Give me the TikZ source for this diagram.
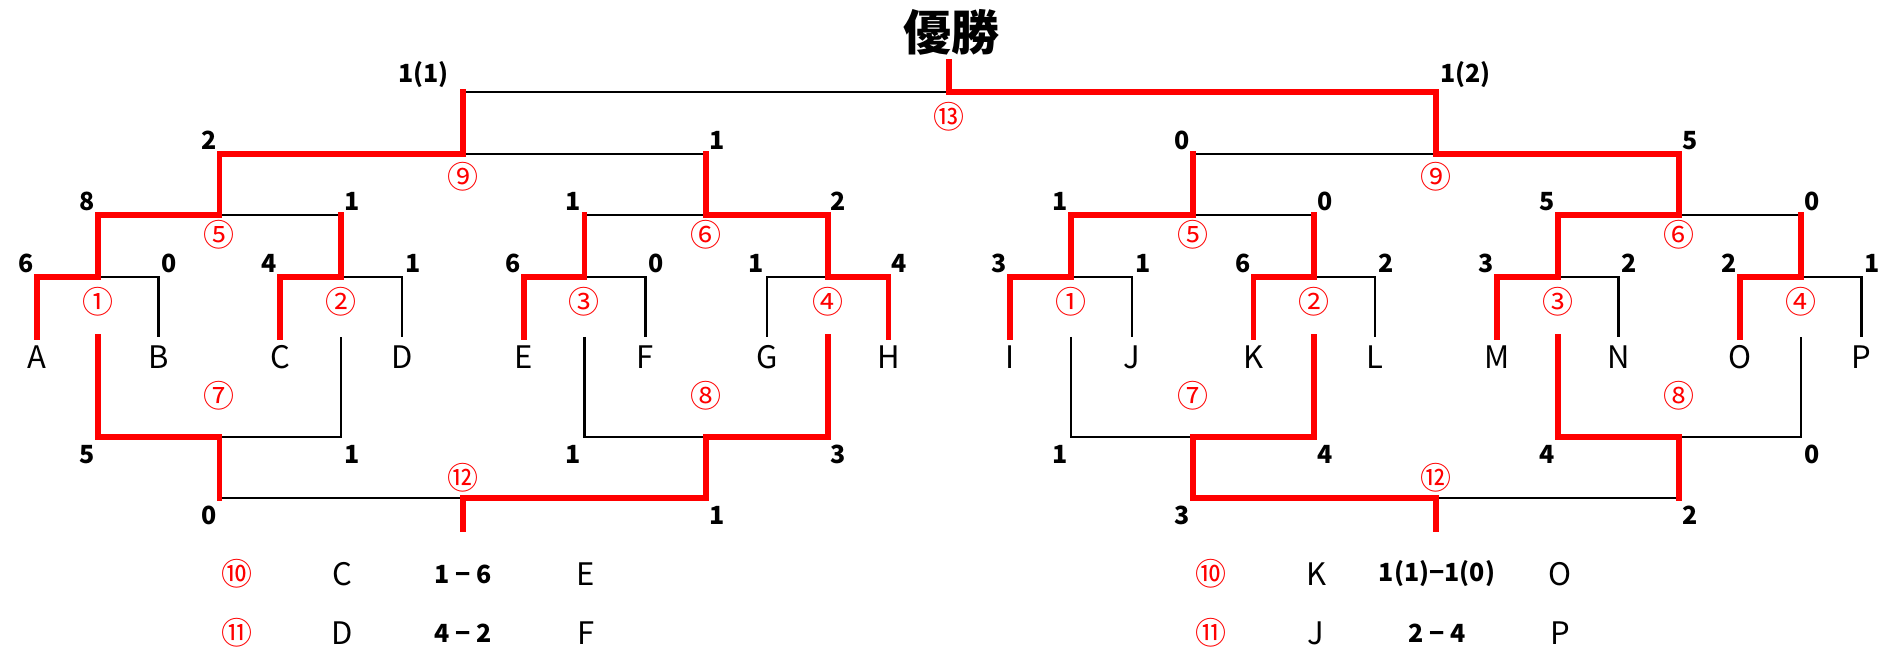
\documentclass[tikz,border=0pt]{standalone}
\usepackage{fontspec}
\setmainfont{Noto Sans CJK JP}
\usetikzlibrary{positioning}

\tikzset{
  bar/.style={line width=2.6pt},
  win/.style={red, line width=5.8pt, line cap=rect},
  player/.style={inner sep=0pt, font=\fontsize{31}{31}\selectfont},
  score/.style={inner sep=0pt, font=\bfseries\fontsize{25}{25}\selectfont},
  num/.style={inner sep=0pt, red, font=\fontsize{31}{31}\selectfont},
  title/.style={inner sep=0pt, font=\bfseries\fontsize{48}{48}\selectfont},
}

\begin{document}
\begin{tikzpicture}[x=1pt,y=1pt]
  \useasboundingbox (0,0) rectangle (1887,652);

  % players
  \foreach \i/\lab in {0/A,1/B,2/C,3/D,4/E,5/F,6/G,7/H,8/I,9/J,10/K,11/L,12/M,13/N,14/O,15/P} {
    \node[player] (p\i) at ({37+121.65*\i},295) {\lab};
    \coordinate (pb\i) at ({37+121.65*\i},315);
    \coordinate (u1-\i) at ({37+121.65*\i},375);
  }
  % corners and match points
  \foreach \k in {0,...,7} {
    \coordinate (c1-\k) at ({97.8+243.3*\k},375);
    \coordinate (u2-\k) at ({97.8+243.3*\k},437);
    \coordinate (d0-\k) at ({97.8+243.3*\k},315);
    \coordinate (d1-\k) at ({97.8+243.3*\k},215);
  }
  \foreach \j in {0,...,3} {
    \coordinate (c2-\j) at ({219.45+486.6*\j},437);
    \coordinate (u3-\j) at ({219.45+486.6*\j},498);
    \coordinate (e1-\j) at ({219.45+486.6*\j},215);
    \coordinate (d2-\j) at ({219.45+486.6*\j},154);
  }
  \foreach \m in {0,1} {
    \coordinate (c3-\m) at ({462.75+973.2*\m},498);
    \coordinate (u4-\m) at ({462.75+973.2*\m},560);
    \coordinate (e2-\m) at ({462.75+973.2*\m},154);
    \coordinate (d3-\m) at ({462.75+973.2*\m},123);
  }
  \coordinate (c4) at (949.35,560);
  \coordinate (top) at (949.35,590);

  % black bracket
  \foreach \k [evaluate=\k as \lo using int(2*\k), evaluate=\k as \hi using int(2*\k+1)] in {0,...,7} {
    \draw[bar] (pb\lo) -- (u1-\lo) -- (u1-\hi) -- (pb\hi);
    \draw[bar] (c1-\k) -- (u2-\k);
  }
  \foreach \j [evaluate=\j as \lo using int(2*\j), evaluate=\j as \hi using int(2*\j+1)] in {0,...,3} {
    \draw[bar] (u2-\lo) -- (u2-\hi);
    \draw[bar] (c2-\j) -- (u3-\j);
    \draw[bar] (d0-\lo) -- (d1-\lo) -- (d1-\hi) -- (d0-\hi);
    \draw[bar] (e1-\j) -- (d2-\j);
  }
  \foreach \m [evaluate=\m as \lo using int(2*\m), evaluate=\m as \hi using int(2*\m+1)] in {0,1} {
    \draw[bar] (u3-\lo) -- (u3-\hi);
    \draw[bar] (c3-\m) -- (u4-\m);
    \draw[bar] (d2-\lo) -- (d2-\hi);
    \draw[bar] (e2-\m) -- (d3-\m);
  }
  \draw[bar] (u4-0) -- (u4-1);
  \draw[bar] (c4) -- (top);

  % winners in red
  \foreach \w/\k in {0/0,2/1,4/2,7/3,8/4,10/5,12/6,14/7}
    \draw[win] (pb\w) -- (u1-\w) -- (c1-\k) -- (u2-\k);
  \foreach \w/\j in {0/0,3/1,4/2,6/3}
    \draw[win] (u2-\w) -- (c2-\j) -- (u3-\j);
  \foreach \w/\m in {0/0,3/1}
    \draw[win] (u3-\w) -- (c3-\m) -- (u4-\m);
  \draw[win] (u4-1) -- (c4) -- (top);
  \foreach \w/\j in {0/0,3/1,5/2,6/3}
    \draw[win] (d0-\w) -- (d1-\w) -- (e1-\j) -- (d2-\j);
  \foreach \w/\m in {1/0,2/1}
    \draw[win] (d2-\w) -- (e2-\m) -- (d3-\m);

  % scores
  \foreach \i/\s in {0/6,2/4,4/6,6/1,8/3,10/6,12/3,14/2}
    \node[score, above left=4pt and 3pt of u1-\i] (s1-\i) {\s};
  \foreach \i/\s in {1/0,3/1,5/0,7/4,9/1,11/2,13/2,15/1}
    \node[score, above right=4pt and 3pt of u1-\i] (s1-\i) {\s};
  \foreach \k/\s in {0/8,2/1,4/1,6/5}
    \node[score, above left=4pt and 3pt of u2-\k] (s2-\k) {\s};
  \foreach \k/\s in {1/1,3/2,5/0,7/0}
    \node[score, above right=4pt and 3pt of u2-\k] (s2-\k) {\s};
  \foreach \j/\s in {0/2,2/0}
    \node[score, above left=4pt and 3pt of u3-\j] (s3-\j) {\s};
  \foreach \j/\s in {1/1,3/5}
    \node[score, above right=4pt and 3pt of u3-\j] (s3-\j) {\s};
  \node[score, above left=4pt and 14pt of u4-0] (s4-0) {1(1)};
  \node[score, above right=4pt and 4pt of u4-1] (s4-1) {1(2)};
  \foreach \k/\s in {0/5,2/1,4/1,6/4}
    \node[score, below left=8pt and 3pt of d1-\k] (t1-\k) {\s};
  \foreach \k/\s in {1/1,3/3,5/4,7/0}
    \node[score, below right=8pt and 3pt of d1-\k] (t1-\k) {\s};
  \foreach \j/\s in {0/0,2/3}
    \node[score, below left=8pt and 3pt of d2-\j] (t2-\j) {\s};
  \foreach \j/\s in {1/1,3/2}
    \node[score, below right=8pt and 3pt of d2-\j] (t2-\j) {\s};

  % match numbers
  \foreach \k/\n in {0/①,1/②,2/③,3/④,4/①,5/②,6/③,7/④}
    \node[num] (n1-\k) at ([yshift=-25pt]c1-\k) {\n};
  \foreach \j/\n in {0/⑤,1/⑥,2/⑤,3/⑥}
    \node[num] (n2-\j) at ([yshift=-20pt]c2-\j) {\n};
  \foreach \m in {0,1}
    \node[num] (n3-\m) at ([yshift=-23pt]c3-\m) {⑨};
  \node[num] (n4) at ([yshift=-25pt]c4) {⑬};
  \foreach \j/\n in {0/⑦,1/⑧,2/⑦,3/⑧}
    \node[num] (m1-\j) at ([yshift=41pt]e1-\j) {\n};
  \foreach \m in {0,1}
    \node[num] (m2-\m) at ([yshift=20pt]e2-\m) {⑫};

  \node[title] (title) at (951,620) {優勝};

  % remaining matches
  \foreach \dx/\y/\n/\a/\s/\b [count=\r] in {0/78/⑩/C/1 − 6/E, 0/19/⑪/D/4 − 2/F, 974/78/⑩/K/1(1)−1(0)/O, 974/19/⑪/J/2 − 4/P} {
    \node[num] (g\r-n) at (237+\dx,\y) {\n};
    \node[player] (g\r-a) at (342+\dx,\y) {\a};
    \node[score] (g\r-s) at (463+\dx,\y) {\s};
    \node[player] (g\r-b) at (586+\dx,\y) {\b};
  }
\end{tikzpicture}
\end{document}
